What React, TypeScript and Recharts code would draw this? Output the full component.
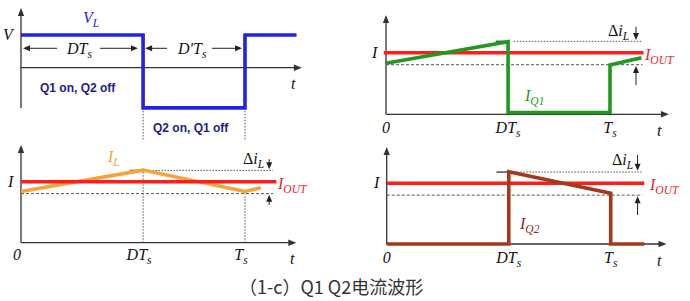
import React from 'react';
import { LineChart, Line, XAxis, YAxis, ReferenceLine } from 'recharts';

// ---------- data (time in units of Ts, values normalised) ----------
const D = 0.545;
const tickTimes = [0, D, 1];
const tickNames = ['0', 'DT', 'T'];
const tickSubs = ['', 's', 's'];

const vlWave = [
  { t: 0, v: 1 }, { t: D, v: 1 }, { t: D, v: -1.23 },
  { t: 1, v: -1.23 }, { t: 1, v: 1 }, { t: 1.23, v: 1 },
];
const iq1Wave = [
  { t: 0, v: 0.83 }, { t: D, v: 1.18 }, { t: D, v: 0.03 },
  { t: 1, v: 0.03 }, { t: 1, v: 0.8 }, { t: 1.14, v: 0.92 },
];
const ilWave = [
  { t: 0, v: 0.84 }, { t: D, v: 1.19 }, { t: 1, v: 0.84 }, { t: 1.07, v: 0.9 },
];
const iq2Wave = [
  { t: 0, v: 0 }, { t: D, v: 0 }, { t: D, v: 1.19 },
  { t: 1, v: 0.835 }, { t: 1, v: 0 }, { t: 1.15, v: 0 },
];
const ioutB = [{ t: -0.01, v: 1 }, { t: 1.15, v: 1 }];
const ioutC = [{ t: 0, v: 1 }, { t: 1.14, v: 1 }];
const ioutD = [{ t: 0, v: 1 }, { t: 1.15, v: 1 }];
const rippleTop = 1.185;
const rippleBottom = 0.805;

// ---------- colours ----------
const BLUE = '#2222e6';
const RED = '#ff1c1c';
const GREEN = '#1f9a1f';
const ORANGE = '#f5a43a';
const BROWN = '#a3391c';
const AXIS = '#333';
const DOT = '#555';

// ---------- helpers ----------
type Frame = { left: number; top: number; w: number; h: number; ox: number; oy: number; kx: number; ky: number };
const xDom = (f: Frame): [number, number] => [(f.left - f.ox) / f.kx, (f.left + f.w - f.ox) / f.kx];
const yDom = (f: Frame): [number, number] => [(f.oy - (f.top + f.h)) / f.ky, (f.oy - f.top) / f.ky];
const px = (f: Frame, t: number) => f.ox + t * f.kx;

const arrow = (o: { start?: boolean; end?: boolean; len?: number; half?: number }) => (p: any) => {
  const { x1, y1, x2, y2, stroke, strokeWidth, strokeDasharray } = p;
  const dx = x2 - x1, dy = y2 - y1;
  const L = Math.hypot(dx, dy) || 1;
  const ux = dx / L, uy = dy / L;
  const len = o.len ?? 8, half = o.half ?? 3;
  let sx = x1, sy = y1, ex = x2, ey = y2;
  const heads: any[] = [];
  const head = (tx: number, ty: number, dxu: number, dyu: number, k: string) => {
    const bx = tx - dxu * len, by = ty - dyu * len;
    return (
      <polygon key={k} fill={stroke} stroke="none"
        points={`${tx},${ty} ${bx - dyu * half},${by + dxu * half} ${bx + dyu * half},${by - dxu * half}`} />
    );
  };
  if (o.end) { ex = x2 - ux * len * 0.7; ey = y2 - uy * len * 0.7; heads.push(head(x2, y2, ux, uy, 'e')); }
  if (o.start) { sx = x1 + ux * len * 0.7; sy = y1 + uy * len * 0.7; heads.push(head(x1, y1, -ux, -uy, 's')); }
  return (
    <g>
      <line x1={sx} y1={sy} x2={ex} y2={ey} stroke={stroke} strokeWidth={strokeWidth} strokeDasharray={strokeDasharray} />
      {heads}
    </g>
  );
};
const axisArrow = arrow({ end: true, len: 8, half: 3.2 });
const smallArrow = arrow({ end: true, len: 7, half: 3 });

const serif = '"Liberation Serif","Times New Roman",serif';

const Sub = ({ children }: { children: React.ReactNode }) => (
  <span style={{ fontSize: '0.72em', position: 'relative', top: '0.38em' }}>{children}</span>
);

const Lbl = ({ x, y, color = '#111', size = 16, italic = true, center = false, family = serif, weight = 'normal', children }: any) => (
  <div style={{
    position: 'absolute', left: x, top: y, transform: center ? 'translate(-50%,-50%)' : 'translateY(-50%)',
    color, fontSize: size, fontStyle: italic ? 'italic' : 'normal', fontFamily: family, fontWeight: weight,
    lineHeight: 1, whiteSpace: 'nowrap',
  }}>{children}</div>
);

const Ticks = ({ f, dy, dx = 0 }: { f: Frame; dy: number; dx?: number }) => (
  <>
    {tickTimes.map((t, i) => (
      <Lbl key={i} x={px(f, t) + dx} y={dy} center>
        {tickNames[i]}{tickSubs[i] ? <Sub>{tickSubs[i]}</Sub> : null}
      </Lbl>
    ))}
  </>
);

// ---------- frames (pixel layout) ----------
const FA: Frame = { left: 0, top: 0, w: 345, h: 142, ox: 21, oy: 67.7, kx: 224, ky: 32.7 };
const FB: Frame = { left: 345, top: 0, w: 345, h: 142, ox: 386, oy: 114.3, kx: 224, ky: 61.6 };
const FC: Frame = { left: 0, top: 140, w: 345, h: 161, ox: 21, oy: 242.7, kx: 224, ky: 61 };
const FD: Frame = { left: 345, top: 140, w: 345, h: 161, ox: 386.7, oy: 244, kx: 224, ky: 60.7 };

const Panel = ({ f, children }: { f: Frame; children: React.ReactNode }) => (
  <div style={{ position: 'absolute', left: f.left, top: f.top }}>
    <LineChart width={f.w} height={f.h} margin={{ top: 0, right: 0, bottom: 0, left: 0 }}>
      <XAxis hide type="number" dataKey="t" domain={xDom(f)} allowDataOverflow />
      <YAxis hide type="number" dataKey="v" domain={yDom(f)} allowDataOverflow />
      {children}
    </LineChart>
  </div>
);

const seg = (x1: number, y1: number, x2: number, y2: number) => [{ x: x1, y: y1 }, { x: x2, y: y2 }] as any;
const axisLine = (x1: number, y1: number, x2: number, y2: number, key: string) => (
  <ReferenceLine key={key} ifOverflow="visible" segment={seg(x1, y1, x2, y2)}
    stroke={AXIS} strokeWidth={1.3} shape={axisArrow} />
);
const dotLine = (x1: number, y1: number, x2: number, y2: number, key: string) => (
  <ReferenceLine key={key} ifOverflow="visible" segment={seg(x1, y1, x2, y2)}
    stroke={DOT} strokeWidth={1} strokeDasharray="1.5 1.5" />
);
const dashLine = (x1: number, y1: number, x2: number, y2: number, key: string) => (
  <ReferenceLine key={key} ifOverflow="visible" segment={seg(x1, y1, x2, y2)}
    stroke={DOT} strokeWidth={1} strokeDasharray="3 2" />
);
const solidLine = (x1: number, y1: number, x2: number, y2: number, key: string) => (
  <ReferenceLine key={key} ifOverflow="visible" segment={seg(x1, y1, x2, y2)}
    stroke="#444" strokeWidth={1.4} />
);
const thinArrow = (x1: number, y1: number, x2: number, y2: number, key: string) => (
  <ReferenceLine key={key} ifOverflow="visible" segment={seg(x1, y1, x2, y2)}
    stroke="#222" strokeWidth={1} shape={smallArrow} />
);

const DeltaI = ({ x, y }: { x: number; y: number }) => (
  <Lbl x={x} y={y}><span style={{ fontStyle: 'normal' }}>Δ</span>i<Sub>L</Sub></Lbl>
);
const IOut = ({ x, y }: { x: number; y: number }) => (
  <Lbl x={x} y={y} color="#f01a2a">I<Sub>OUT</Sub></Lbl>
);

const lineProps = { dot: false, activeDot: false, isAnimationActive: false, strokeWidth: 3.6 } as any;

export default function App() {
  return (
    <div style={{ position: 'absolute', left: 0, top: 0, width: 690, height: 301, background: '#fff', overflow: 'hidden' }}>
      {/* Panel A : inductor voltage */}
      <Panel f={FA}>
        {axisLine(0, -1.23, 0, 1.826, 'ya')}
        {axisLine(0, 0, 1.254, 0, 'xa')}
        {dotLine(D, -1.23, D, -2.2, 'd1')}
        {dotLine(1, -1.23, 1, -2.2, 'd2')}
        {thinArrow(0.161, 0.593, 0.009, 0.593, 'a1')}
        {thinArrow(0.353, 0.593, 0.522, 0.593, 'a2')}
        {thinArrow(0.652, 0.593, 0.554, 0.593, 'a3')}
        {thinArrow(0.853, 0.593, 0.987, 0.593, 'a4')}
        <Line data={vlWave} dataKey="v" stroke={BLUE} {...lineProps} />
      </Panel>

      {/* Panel B : Q1 current */}
      <Panel f={FB}>
        {axisLine(0, 0, 0, 1.61, 'yb')}
        {axisLine(0, 0, 1.263, 0, 'xb')}
        {solidLine(0.49, rippleTop, 0.545, rippleTop, 'sb')}
        {dotLine(0.57, rippleTop, 1.145, rippleTop, 'tb')}
        {dashLine(0, rippleBottom, 1.145, rippleBottom, 'bb')}
        {thinArrow(1.116, 1.42, 1.116, rippleTop + 0.02, 'db')}
        {thinArrow(1.116, 0.476, 1.116, rippleBottom - 0.02, 'ub')}
        <Line data={ioutB} dataKey="v" stroke={RED} {...lineProps} />
        <Line data={iq1Wave} dataKey="v" stroke={GREEN} {...lineProps} />
      </Panel>

      {/* Panel C : inductor current */}
      <Panel f={FC}>
        {axisLine(0, 0, 0, 1.6, 'yc')}
        {axisLine(0, 0, 1.229, 0, 'xc')}
        {solidLine(0.487, rippleTop, 0.54, rippleTop, 'sc')}
        {dotLine(0.56, rippleTop, 1.125, rippleTop, 'tc')}
        {dashLine(0, rippleBottom, 1.125, rippleBottom, 'bc')}
        {dotLine(D, 0, D, rippleTop, 'vc1')}
        {dotLine(1, 0, 1, rippleBottom, 'vc2')}
        {thinArrow(1.108, 1.37, 1.108, rippleTop + 0.02, 'dc')}
        {thinArrow(1.108, 0.62, 1.108, rippleBottom - 0.02, 'uc')}
        <Line data={ilWave} dataKey="v" stroke={ORANGE} {...lineProps} />
        <Line data={ioutC} dataKey="v" stroke={RED} {...lineProps} />
      </Panel>

      {/* Panel D : Q2 current */}
      <Panel f={FD}>
        {axisLine(0, 0, 0, 1.6, 'yd')}
        {axisLine(0, 0, 1.249, 0, 'xd')}
        {solidLine(0.49, rippleTop, 0.545, rippleTop, 'sd')}
        {dotLine(0.57, rippleTop, 1.14, rippleTop, 'td')}
        {dashLine(0, rippleBottom, 1.14, rippleBottom, 'bd')}
        {thinArrow(1.12, 1.466, 1.12, rippleTop + 0.02, 'dd')}
        {thinArrow(1.12, 0.478, 1.12, rippleBottom - 0.02, 'ud')}
        <Line data={ioutD} dataKey="v" stroke={RED} {...lineProps} />
        <Line data={iq2Wave} dataKey="v" stroke={BROWN} {...lineProps} />
      </Panel>

      {/* ---------- text ---------- */}
      {/* A */}
      <Lbl x={3} y={35}>V</Lbl>
      <Lbl x={83} y={18} color={BLUE}>V<Sub>L</Sub></Lbl>
      <Lbl x={67} y={49}>DT<Sub>s</Sub></Lbl>
      <Lbl x={178} y={49}>D'T<Sub>s</Sub></Lbl>
      <Lbl x={291} y={84}>t</Lbl>
      <Lbl x={40} y={87.5} italic={false} size={12} weight="bold" family='"Liberation Sans",Arial,sans-serif' color="#1c1c8c">Q1 on, Q2 off</Lbl>
      <Lbl x={153} y={128} italic={false} size={12} weight="bold" family='"Liberation Sans",Arial,sans-serif' color="#1c1c8c">Q2 on, Q1 off</Lbl>

      {/* B */}
      <Lbl x={372} y={53}>I</Lbl>
      <IOut x={645} y={55} />
      <DeltaI x={608} y={31} />
      <Lbl x={525} y={96} color={GREEN}>I<Sub>Q1</Sub></Lbl>
      <Ticks f={FB} dy={128} />
      <Lbl x={657} y={131}>t</Lbl>

      {/* C */}
      <Lbl x={8} y={182}>I</Lbl>
      <Lbl x={108} y={157} color={ORANGE}>I<Sub>L</Sub></Lbl>
      <DeltaI x={243} y={159} />
      <IOut x={278} y={184} />
      <Ticks f={FC} dy={255} dx={-4} />
      <Lbl x={290} y={259}>t</Lbl>

      {/* D */}
      <Lbl x={374} y={183}>I</Lbl>
      <DeltaI x={612} y={160} />
      <IOut x={650} y={185} />
      <Lbl x={520} y={224} color="#9b2020">I<Sub>Q2</Sub></Lbl>
      <Ticks f={FD} dy={258} />
      <Lbl x={657} y={261}>t</Lbl>

      {/* caption */}
      <Lbl x={239} y={286} italic={false} size={18} color="#333" family='"Noto Sans CJK SC","Noto Sans",sans-serif'>（1-c）Q1 Q2电流波形</Lbl>
    </div>
  );
}
